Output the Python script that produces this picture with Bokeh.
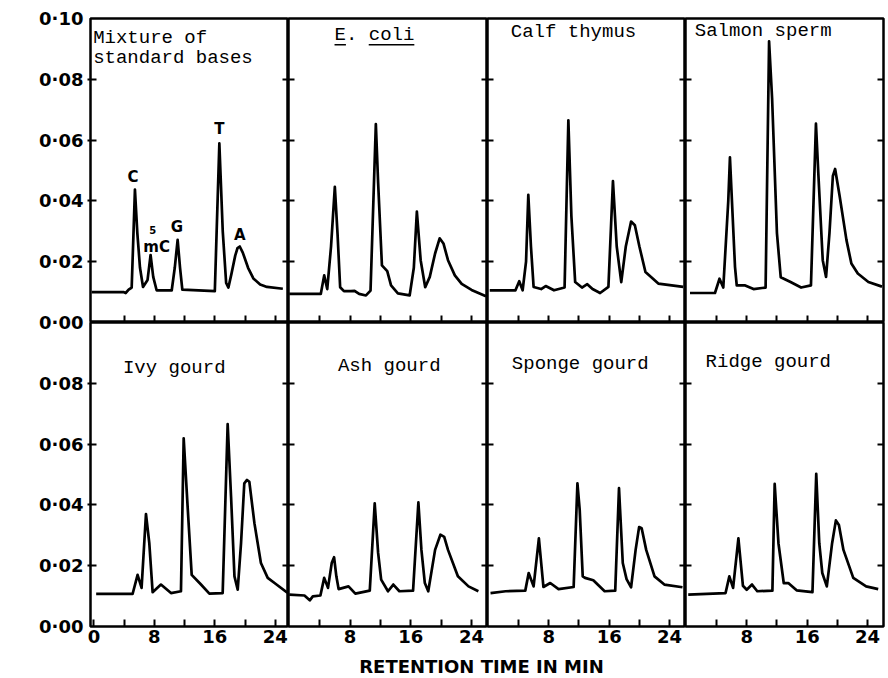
import math
from bokeh.plotting import figure
from bokeh.models import (Range1d, LinearAxis, FixedTicker, CustomJSTickFormatter,
                          Label, GridBox)
from bokeh.embed import file_html
from bokeh.resources import INLINE

# ---------------- data (retention time in min, absorbance at 254 nm) ----------------
t_mix = [-0.3, 3.9, 4.2, 4.6, 5.0, 5.43, 5.75, 6.1, 6.5, 7.1, 7.5, 7.85, 8.3, 10.3, 10.7,
         11.08, 11.4, 11.7, 16.0, 16.6, 17.05, 17.5, 17.8, 18.2, 18.7, 19.0, 19.3, 19.7,
         20.4, 21.1, 22.0, 22.9, 25.0]
a_mix = [0.0100, 0.0100, 0.0097, 0.0108, 0.0115, 0.0437, 0.0293, 0.0180, 0.0117, 0.0140,
         0.0222, 0.0150, 0.0106, 0.0106, 0.0180, 0.0272, 0.0180, 0.0108, 0.0103, 0.0589,
         0.0300, 0.0130, 0.0115, 0.0160, 0.0220, 0.0245, 0.0250, 0.0230, 0.0180, 0.0145,
         0.0125, 0.0117, 0.0111]

t_ecoli = [0.0, 4.15, 4.6, 5.0, 5.5, 6.0, 6.36, 6.7, 7.2, 8.1, 8.6, 9.2, 10.1, 10.7, 11.4,
           11.7, 12.2, 12.9, 13.4, 14.3, 15.85, 16.4, 16.8, 17.3, 17.9, 18.5, 19.2, 19.8,
           20.3, 20.9, 21.8, 22.7, 24.0, 25.9]
a_ecoli = [0.0094, 0.0094, 0.0155, 0.0110, 0.0250, 0.0446, 0.0290, 0.0116, 0.0103, 0.0103,
           0.0104, 0.0094, 0.0089, 0.0105, 0.0653, 0.0460, 0.0188, 0.0169, 0.0122, 0.0096,
           0.0089, 0.0180, 0.0365, 0.0205, 0.0116, 0.0150, 0.0227, 0.0277, 0.0260, 0.0205,
           0.0155, 0.0127, 0.0107, 0.0086]

t_calf = [0.2, 3.6, 4.1, 4.55, 5.0, 5.3, 5.65, 6.0, 7.0, 7.6, 8.7, 10.1, 10.6, 11.0, 11.5,
          12.4, 13.1, 13.8, 14.8, 15.9, 16.5, 17.0, 17.6, 18.2, 18.9, 19.4, 20.0, 20.8,
          22.5, 25.8]
a_calf = [0.0106, 0.0106, 0.0136, 0.0106, 0.0200, 0.0420, 0.0250, 0.0117, 0.0110, 0.0120,
          0.0106, 0.0115, 0.0665, 0.0350, 0.0133, 0.0115, 0.0126, 0.0110, 0.0097, 0.0117,
          0.0465, 0.0250, 0.0133, 0.0250, 0.0332, 0.0320, 0.0250, 0.0166, 0.0128, 0.0117]

t_salmon = [0.5, 3.8, 4.4, 4.9, 5.56, 5.78, 6.14, 6.45, 6.68, 7.8, 8.9, 10.5, 10.96, 11.36,
            12.0, 12.5, 13.8, 15.2, 16.5, 17.16, 17.47, 18.06, 18.5, 18.95, 19.4, 19.7,
            20.3, 21.2, 21.85, 22.7, 24.1, 25.9]
a_salmon = [0.0097, 0.0097, 0.0144, 0.0115, 0.0400, 0.0543, 0.0349, 0.0183, 0.0122, 0.0122,
            0.0110, 0.0115, 0.0925, 0.0737, 0.0294, 0.0149, 0.0133, 0.0115, 0.0122, 0.0654,
            0.0493, 0.0205, 0.0150, 0.0294, 0.0482, 0.0505, 0.0415, 0.0271, 0.0194, 0.0161,
            0.0133, 0.0118]

t_ivy = [0.3, 5.12, 5.78, 6.31, 6.89, 7.33, 7.77, 8.87, 10.2, 11.52, 11.88, 12.4, 12.94,
         14.17, 15.28, 17.04, 17.7, 18.15, 18.6, 19.03, 19.47, 19.9, 20.26, 20.57, 21.24,
         22.1, 23.0, 23.9, 25.6]
a_ivy = [0.0107, 0.0107, 0.0170, 0.0127, 0.0370, 0.0274, 0.0113, 0.0138, 0.0110, 0.0116,
         0.0619, 0.0395, 0.0170, 0.0138, 0.0108, 0.0110, 0.0666, 0.0427, 0.0165, 0.0121,
         0.0274, 0.0471, 0.0482, 0.0476, 0.0340, 0.0209, 0.0160, 0.0143, 0.0111]

t_ash = [0.0, 2.0, 2.7, 3.1, 4.1, 4.6, 5.1, 5.6, 5.9, 6.2, 6.5, 7.8, 8.7, 10.6, 11.25, 11.7,
         12.1, 13.0, 13.7, 14.5, 16.3, 17.0, 17.4, 17.85, 18.3, 19.2, 19.9, 20.4, 20.9,
         22.2, 23.6, 24.9]
a_ash = [0.0105, 0.0102, 0.0086, 0.0099, 0.0102, 0.0160, 0.0127, 0.0210, 0.0228, 0.0165,
         0.0123, 0.0132, 0.0108, 0.0118, 0.0405, 0.0242, 0.0154, 0.0116, 0.0138, 0.0116,
         0.0118, 0.0408, 0.0252, 0.0143, 0.0116, 0.0252, 0.0302, 0.0295, 0.0252, 0.0165,
         0.0132, 0.0116]

t_sponge = [0.3, 2.3, 4.9, 5.35, 6.0, 6.7, 7.3, 8.2, 9.3, 11.3, 11.8, 12.1, 12.5, 12.8,
            13.9, 15.4, 16.8, 17.3, 17.8, 18.3, 18.9, 19.5, 19.96, 20.3, 20.9, 22.0, 23.3,
            25.7]
a_sponge = [0.0110, 0.0116, 0.0118, 0.0176, 0.0132, 0.0290, 0.0130, 0.0143, 0.0123, 0.0130,
            0.0471, 0.0384, 0.0165, 0.0160, 0.0152, 0.0116, 0.0118, 0.0455, 0.0209, 0.0156,
            0.0129, 0.0252, 0.0327, 0.0323, 0.0252, 0.0165, 0.0138, 0.0129]

t_ridge = [0.26, 5.2, 5.7, 6.2, 6.9, 7.5, 8.0, 8.7, 9.4, 11.4, 11.7, 12.2, 12.9, 13.5, 14.6,
           16.7, 17.2, 17.6, 18.0, 18.6, 19.3, 19.8, 20.2, 20.8, 22.1, 23.8, 25.4]
a_ridge = [0.0105, 0.0110, 0.0165, 0.0127, 0.0290, 0.0134, 0.0121, 0.0138, 0.0116, 0.0118,
           0.0469, 0.0274, 0.0143, 0.0143, 0.0119, 0.0113, 0.0502, 0.0274, 0.0176, 0.0132,
           0.0274, 0.0349, 0.0334, 0.0252, 0.0160, 0.0132, 0.0123]

panel_titles = [["Mixture of", "standard bases"], ["E. coli"], ["Calf thymus"],
                ["Salmon sperm"], ["Ivy gourd"], ["Ash gourd"], ["Sponge gourd"],
                ["Ridge gourd"]]
series = [(t_mix, a_mix), (t_ecoli, a_ecoli), (t_calf, a_calf), (t_salmon, a_salmon),
          (t_ivy, a_ivy), (t_ash, a_ash), (t_sponge, a_sponge), (t_ridge, a_ridge)]

peak_names = ["C", "mC", "G", "T", "A"]

x_tick_values = [4, 8, 12, 16, 20, 24]
x_tick_values_first = [0, 4, 8, 12, 16, 20, 24]
y_tick_values = [0.02, 0.04, 0.06, 0.08]
strip_tick_values = [0.0, 0.02, 0.04, 0.06, 0.08, 0.10, 0.12, 0.14, 0.16, 0.18, 0.20]

# ---------------- layout / style ----------------
SANS = "DejaVu Sans"
MONO = "Liberation Mono"
XRS = [(-0.45, 25.75), (-0.1, 26.1), (-0.1, 26.1), (-0.1, 26.1)]
FWS = [198, 199, 198, 198]
FH = 304
TOP_B = 18
BOT_B = 25
XT_H = 27
STRIP_LB = 85
STRIP_W = 87

# label anchors (data coords of each panel)
title_pos = [(-0.1, [0.0937, 0.0871]), (5.96, [0.0947]), (2.98, [0.0957]), (1.13, [0.0960]),
             (3.84, [0.0849]), (6.41, [0.0856]), (3.12, [0.0862]), (2.56, [0.0869])]
peak_pos = [(5.17, 0.0477), (8.3, 0.0248), (11.0, 0.0315), (16.6, 0.0636), (19.3, 0.0288)]

blank = CustomJSTickFormatter(code="return '';")


def make_panel(row, col, t, a):
    lb = 3 if col == 0 else 0
    rb = 2 if col == 3 else 0
    tb = TOP_B if row == 0 else 0
    bb = BOT_B if row == 1 else 0
    p = figure(width=FWS[col] + lb + rb, height=FH + tb + bb,
               x_range=Range1d(*XRS[col]), y_range=Range1d(0.0, 0.10),
               x_axis_location=None, y_axis_location=None,
               output_backend="svg", toolbar_location=None,
               min_border_left=lb, min_border_right=rb,
               min_border_top=tb, min_border_bottom=bb)
    p.grid.visible = False
    p.outline_line_color = "black"
    p.outline_line_width = 2.5
    p.background_fill_color = "white"
    p.border_fill_color = "white"
    for side in ("left", "right"):
        ax = LinearAxis(ticker=FixedTicker(ticks=y_tick_values), axis_line_color=None,
                        formatter=blank,
                        major_tick_in=6,
                        major_tick_out=3 if (side == "left" and col == 0) else 0,
                        major_tick_line_width=2, major_tick_line_color="black",
                        minor_tick_line_color=None,
                        major_label_text_font_size="0px", major_label_standoff=0)
        p.add_layout(ax, side)
    xt = x_tick_values_first if (row == 1 and col == 0) else x_tick_values
    bx = LinearAxis(ticker=FixedTicker(ticks=xt), axis_line_color=None,
                    major_tick_in=7, major_tick_out=0, major_tick_line_width=2,
                    major_tick_line_color="black", minor_tick_line_color=None)
    if row == 1:
        bx.formatter = CustomJSTickFormatter(code="return (tick % 8 === 0) ? String(tick) : '';")
        bx.major_label_text_font = SANS
        bx.major_label_text_font_style = "bold"
        bx.major_label_text_font_size = "18px"
        bx.major_label_text_color = "black"
        bx.major_label_standoff = 3
    else:
        bx.formatter = blank
        bx.major_label_text_font_size = "0px"
        bx.major_label_standoff = 0
    p.add_layout(bx, "below")
    p.line(t, a, line_width=2.7, line_color="black", line_join="round")
    return p


panels = []
for i, (t, a) in enumerate(series):
    row, col = divmod(i, 4)
    p = make_panel(row, col, t, a)
    tx, tys = title_pos[i]
    for line, ty in zip(panel_titles[i], tys):
        p.add_layout(Label(x=tx, y=ty, text=line, text_font=MONO, text_font_size="19px",
                           text_align="left", text_baseline="middle", text_color="black"))
    panels.append(p)

# underline of the italic name E. coli
cw = 11.4 * (XRS[1][1] - XRS[1][0]) / FWS[1]
ex, ey = title_pos[1][0], title_pos[1][1][0] - 0.0033
panels[1].segment(x0=[ex, ex + 3 * cw], y0=[ey, ey], x1=[ex + cw, ex + 7 * cw], y1=[ey, ey],
                  line_color="black", line_width=1.5)

# peak labels for the standard mixture
for name, (px, py) in zip(peak_names, peak_pos):
    panels[0].add_layout(Label(x=px, y=py, text=name, text_font=SANS, text_font_style="bold",
                               text_font_size="15px", text_align="center",
                               text_baseline="middle", text_color="black"))
panels[0].add_layout(Label(x=peak_pos[1][0] - 0.5, y=peak_pos[1][1] + 0.0055, text="5",
                           text_font=SANS, text_font_style="bold", text_font_size="10px",
                           text_align="center", text_baseline="middle", text_color="black"))

# shared y tick-label strip
strip = figure(width=STRIP_W, height=TOP_B + 2 * FH + BOT_B,
               x_range=Range1d(0, 1), y_range=Range1d(0.0, 0.20),
               x_axis_location=None, y_axis_location=None,
               output_backend="svg", toolbar_location=None,
               min_border_left=STRIP_LB, min_border_right=0,
               min_border_top=TOP_B, min_border_bottom=BOT_B)
strip.grid.visible = False
strip.outline_line_color = None
sax = LinearAxis(ticker=FixedTicker(ticks=strip_tick_values),
                 formatter=CustomJSTickFormatter(code="""
const v = tick >= 0.0999 ? tick - 0.1 : tick;
return "0\\u00b7" + String(Math.round(v * 100)).padStart(2, "0");
"""),
                 axis_line_color=None, major_tick_line_color=None, minor_tick_line_color=None,
                 major_tick_in=0, major_tick_out=0, major_label_standoff=2,
                 major_label_text_font=SANS, major_label_text_font_style="bold",
                 major_label_text_font_size="18px", major_label_text_color="black")
strip.add_layout(sax, "left")
strip.add_layout(Label(x=-64, y=286, x_units="screen", y_units="screen",
                       text="ABSORBANCE AT 254 nm", angle=math.pi / 2,
                       text_font=SANS, text_font_style="bold", text_font_size="19px",
                       text_align="center", text_baseline="middle", text_color="black"))

# x title row (frame aligned with the panels' area)
total_w = STRIP_W + sum(FWS) + 3 + 2
xt_fig = figure(width=total_w, height=XT_H, x_range=Range1d(STRIP_LB, total_w),
                y_range=Range1d(0, XT_H),
                x_axis_location=None, y_axis_location=None,
                output_backend="svg", toolbar_location=None,
                min_border_left=STRIP_LB, min_border_right=0,
                min_border_top=0, min_border_bottom=0)
xt_fig.grid.visible = False
xt_fig.outline_line_color = None
xt_fig.add_layout(Label(x=482, y=12.5, text="RETENTION TIME IN MIN", text_font=SANS,
                        text_font_style="bold", text_font_size="18px", text_align="center",
                        text_baseline="middle", text_color="black"))

children = [(strip, 0, 0, 2, 1)]
for i, p in enumerate(panels):
    row, col = divmod(i, 4)
    children.append((p, row, col + 1))
children.append((xt_fig, 2, 0, 1, 5))

grid = GridBox(children=children, spacing=0)

open("out.html", "w").write(file_html(grid, INLINE))
